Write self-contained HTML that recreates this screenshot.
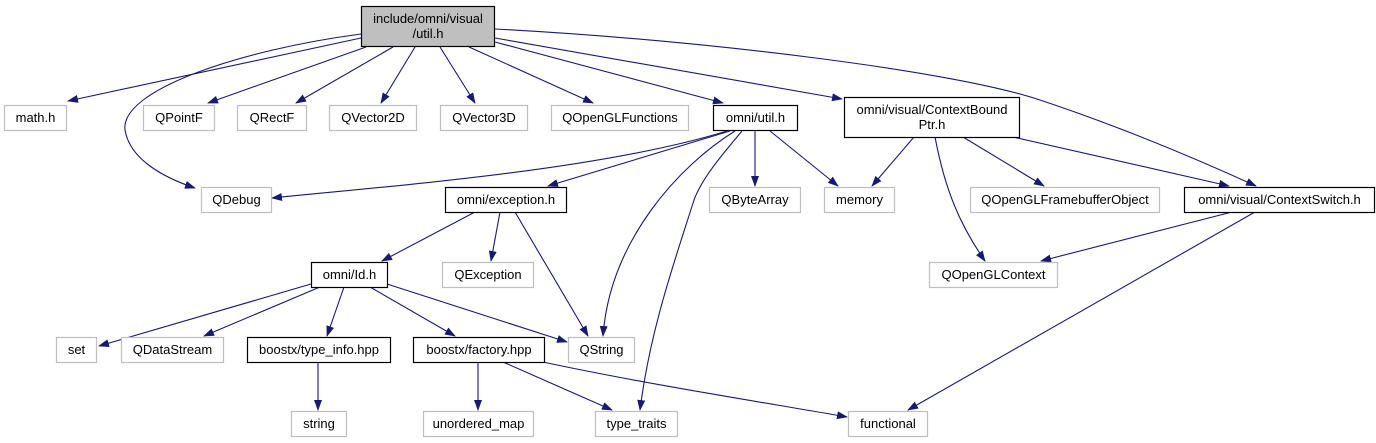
<!DOCTYPE html>
<html><head><meta charset="utf-8"><style>
html,body{margin:0;padding:0;background:#fff;}
svg{display:block;}
text{font-family:"Liberation Sans",sans-serif;font-size:13px;text-anchor:middle;fill:#000;}
.g{fill:#fff;stroke:#bfbfbf;stroke-width:1.2;}
.b{fill:#fff;stroke:#000;stroke-width:1.2;}
.e{fill:none;stroke:#191970;stroke-width:1.1;marker-end:url(#a);}
</style></head><body>
<svg width="1376" height="443" viewBox="0 0 1376 443" xmlns="http://www.w3.org/2000/svg">
<defs><marker id="a" markerWidth="11" markerHeight="8" refX="10" refY="4" orient="auto" markerUnits="userSpaceOnUse"><path d="M0,0 L11,4 L0,8 z" fill="#191970"/></marker></defs>

<path class="e" d="M361,38 L68,101"/>
<path class="e" d="M361,34 C240,50 120,90 125,130 C130,160 165,178 195,188"/>
<path class="e" d="M366,47 L208,103"/>
<path class="e" d="M393,47 L296,103"/>
<path class="e" d="M415,47 L381,103"/>
<path class="e" d="M440,47 L475,103"/>
<path class="e" d="M469,47 L593,103"/>
<path class="e" d="M495,42 L723,103"/>
<path class="e" d="M495,38 L842,99"/>
<path class="e" d="M495,29 C700,40 950,70 1040,100 C1130,130 1210,165 1256,186"/>
<path class="e" d="M727,131 C600,170 400,185 272,198"/>
<path class="e" d="M730,131 L548,186"/>
<path class="e" d="M735,131 C680,165 610,240 603,336"/>
<path class="e" d="M742,131 C722,155 702,178 694,200 C675,260 650,330 640,410"/>
<path class="e" d="M755,131 L755,186"/>
<path class="e" d="M770,131 L838,186"/>
<path class="e" d="M914,137 L872,186"/>
<path class="e" d="M935,137 C945,190 960,225 985,261"/>
<path class="e" d="M963,137 L1044,186"/>
<path class="e" d="M1013,137 L1229,186"/>
<path class="e" d="M1232,212 L1041,261"/>
<path class="e" d="M1255,212 L908,410"/>
<path class="e" d="M475,212 L382,261"/>
<path class="e" d="M500,212 L491,261"/>
<path class="e" d="M515,212 L588,336"/>
<path class="e" d="M311,284 L99,346"/>
<path class="e" d="M320,287 L204,336"/>
<path class="e" d="M344,287 L327,336"/>
<path class="e" d="M370,287 L455,336"/>
<path class="e" d="M387,284 L567,342"/>
<path class="e" d="M318,362 L318,410"/>
<path class="e" d="M478,362 L478,410"/>
<path class="e" d="M503,362 L612,410"/>
<path class="e" d="M543,362 C650,385 780,405 847,417"/>

<rect x="361.5" y="6.5" width="133" height="40" fill="#bfbfbf" stroke="#000" stroke-width="1.2"/>
<text x="428" y="23">include/omni/visual</text><text x="428" y="38">/util.h</text>

<rect class="g" x="4.5" y="105.5" width="62" height="25"/><text x="35.5" y="122">math.h</text>
<rect class="g" x="143.5" y="105.5" width="71" height="25"/><text x="179" y="122">QPointF</text>
<rect class="g" x="237.5" y="105.5" width="69" height="25"/><text x="272" y="122">QRectF</text>
<rect class="g" x="329.5" y="105.5" width="87" height="25"/><text x="373" y="122">QVector2D</text>
<rect class="g" x="440.5" y="105.5" width="87" height="25"/><text x="484" y="122">QVector3D</text>
<rect class="g" x="551.5" y="105.5" width="137" height="25"/><text x="620" y="122">QOpenGLFunctions</text>
<rect class="b" x="713.5" y="105.5" width="84" height="25"/><text x="755.5" y="122">omni/util.h</text>
<rect class="b" x="844.5" y="97.5" width="175" height="40"/><text x="932" y="114">omni/visual/ContextBound</text><text x="932" y="129">Ptr.h</text>

<rect class="g" x="201.5" y="187.5" width="70" height="25"/><text x="236.5" y="204">QDebug</text>
<rect class="b" x="445.5" y="187.5" width="121" height="25"/><text x="506" y="204">omni/exception.h</text>
<rect class="g" x="709.5" y="187.5" width="91" height="25"/><text x="755" y="204">QByteArray</text>
<rect class="g" x="824.5" y="187.5" width="70" height="25"/><text x="859.5" y="204">memory</text>
<rect class="g" x="970.5" y="187.5" width="189" height="25"/><text x="1065" y="204">QOpenGLFramebufferObject</text>
<rect class="b" x="1184.5" y="187.5" width="190" height="25"/><text x="1279.5" y="204">omni/visual/ContextSwitch.h</text>

<rect class="b" x="311.5" y="262.5" width="76" height="25"/><text x="349.5" y="279">omni/Id.h</text>
<rect class="g" x="442.5" y="262.5" width="91" height="25"/><text x="488" y="279">QException</text>
<rect class="g" x="929.5" y="262.5" width="128" height="25"/><text x="993.5" y="279">QOpenGLContext</text>

<rect class="g" x="56.5" y="337.5" width="40" height="25"/><text x="76.5" y="354">set</text>
<rect class="g" x="121.5" y="337.5" width="102" height="25"/><text x="172.5" y="354">QDataStream</text>
<rect class="b" x="247.5" y="337.5" width="143" height="25"/><text x="319" y="354">boostx/type_info.hpp</text>
<rect class="b" x="413.5" y="337.5" width="131" height="25"/><text x="479" y="354">boostx/factory.hpp</text>
<rect class="g" x="568.5" y="337.5" width="66" height="25"/><text x="601.5" y="354">QString</text>

<rect class="g" x="291.5" y="411.5" width="55" height="25"/><text x="319" y="428">string</text>
<rect class="g" x="423.5" y="411.5" width="110" height="25"/><text x="478.5" y="428">unordered_map</text>
<rect class="g" x="595.5" y="411.5" width="82" height="25"/><text x="636.5" y="428">type_traits</text>
<rect class="g" x="848.5" y="411.5" width="79" height="25"/><text x="888" y="428">functional</text>
</svg>
</body></html>
